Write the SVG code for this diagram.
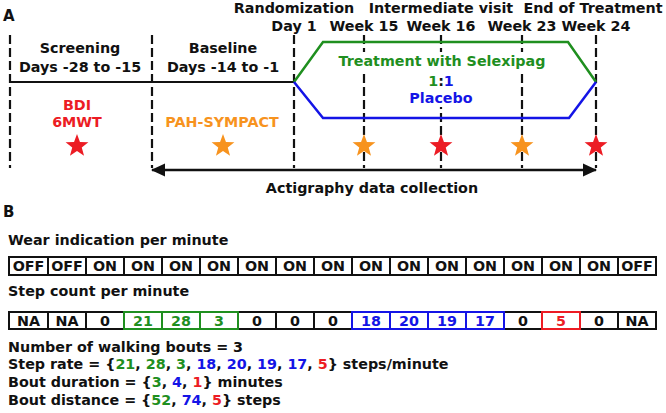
<svg xmlns="http://www.w3.org/2000/svg" width="666" height="413" viewBox="0 0 666 413">
<style>
text{font-family:"DejaVu Sans","Verdana",sans-serif;font-weight:bold;font-size:14.3px;fill:#111}
.c{text-anchor:middle}
.lbl{font-size:15px}
.dash{stroke:#111;stroke-width:2.2;stroke-dasharray:9,4;fill:none}
.cell{fill:#fff;stroke:#111;stroke-width:2}
.g{fill:#1f8f1f}.b{fill:#1414e6}.r{fill:#ec1c24}.o{fill:#f7931e}
.gs{fill:none;stroke:#1f8f1f;stroke-width:2}
.bs{fill:none;stroke:#1414e6;stroke-width:2}
.rs{fill:none;stroke:#ec1c24;stroke-width:2}
</style>
<defs>
<polygon id="star" points="0,-12 2.94,-4.05 11.41,-3.71 4.76,1.55 7.05,9.71 0,5 -7.05,9.71 -4.76,1.55 -11.41,-3.71 -2.94,-4.05"/>
<marker id="ah" markerUnits="userSpaceOnUse" markerWidth="14" markerHeight="14" refX="13" refY="6.5" orient="auto-start-reverse" viewBox="0 0 14 13">
<path d="M0,0 L14,6.5 L0,13 z" fill="#111"/>
</marker>
</defs>
<rect width="666" height="413" fill="#fff"/>

<g id="panelA-label"><text class="lbl" x="3" y="21">A</text></g>

<g id="connectors">
<line class="dash" x1="10" y1="35" x2="10" y2="168"/>
<line class="dash" x1="152" y1="35" x2="152" y2="168"/>
<line class="dash" x1="294" y1="35" x2="294" y2="168"/>
<line class="dash" x1="364" y1="35" x2="364" y2="168"/>
<line class="dash" x1="441" y1="35" x2="441" y2="168"/>
<line class="dash" x1="522" y1="35" x2="522" y2="168"/>
<line class="dash" x1="596" y1="35" x2="596" y2="168"/>
<line x1="10" y1="82" x2="294" y2="82" stroke="#111" stroke-width="2.2"/>
<path d="M294,82 L323,42 L568,42 L596,82" fill="none" stroke="#1f8f1f" stroke-width="2.5"/>
<path d="M294,82 L323,118 L569,118 L596,82" fill="none" stroke="#1414e6" stroke-width="2.5"/>
<line x1="152" y1="170" x2="596" y2="170" stroke="#111" stroke-width="2.5" marker-start="url(#ah)" marker-end="url(#ah)"/>
</g>

<g id="timepoints">
<text class="c" x="294" y="13">Randomization</text>
<text class="c" x="441" y="13">Intermediate visit</text>
<text class="c" x="593" y="13">End of Treatment</text>
<text class="c" x="294" y="31">Day 1</text>
<text class="c" x="364" y="31">Week 15</text>
<text class="c" x="441" y="31">Week 16</text>
<text class="c" x="522" y="31">Week 23</text>
<text class="c" x="596" y="31">Week 24</text>
</g>

<g id="screening">
<text class="c" x="80" y="53">Screening</text>
<text class="c" x="80" y="72">Days -28 to -15</text>
<text class="c r" x="77" y="110">BDI</text>
<text class="c r" x="77" y="127">6MWT</text>
<use href="#star" x="77" y="146" class="r"/>
</g>

<g id="baseline">
<text class="c" x="223" y="53">Baseline</text>
<text class="c" x="223" y="72">Days -14 to -1</text>
<text class="c o" x="222" y="127">PAH-SYMPACT</text>
<use href="#star" x="223" y="146" class="o"/>
</g>

<g id="treatment">
<rect x="338" y="52" width="208" height="18" fill="#fff"/>
<rect x="410" y="73" width="62" height="34" fill="#fff"/>
<text class="c g" x="442" y="66">Treatment with Selexipag</text>
<text class="c" x="441" y="86"><tspan class="g">1</tspan><tspan fill="#111">:</tspan><tspan class="b">1</tspan></text>
<text class="c b" x="441" y="103">Placebo</text>
</g>

<g id="visit-stars">
<use href="#star" x="364" y="146" class="o"/>
<use href="#star" x="441" y="146" class="r"/>
<use href="#star" x="522" y="146" class="o"/>
<use href="#star" x="596" y="146" class="r"/>
</g>

<g id="actigraphy"><text class="c" x="372" y="193">Actigraphy data collection</text></g>

<g id="panelB-label"><text class="lbl" x="3" y="217">B</text></g>

<g id="wear-row">
<text x="8" y="245">Wear indication per minute</text>
<rect class="cell" x="9" y="257" width="39" height="18"/>
<rect class="cell" x="48" y="257" width="38" height="18"/>
<rect class="cell" x="86" y="257" width="38" height="18"/>
<rect class="cell" x="124" y="257" width="38" height="18"/>
<rect class="cell" x="162" y="257" width="38" height="18"/>
<rect class="cell" x="200" y="257" width="38" height="18"/>
<rect class="cell" x="238" y="257" width="38" height="18"/>
<rect class="cell" x="276" y="257" width="38" height="18"/>
<rect class="cell" x="314" y="257" width="38" height="18"/>
<rect class="cell" x="352" y="257" width="38" height="18"/>
<rect class="cell" x="390" y="257" width="38" height="18"/>
<rect class="cell" x="428" y="257" width="38" height="18"/>
<rect class="cell" x="466" y="257" width="38" height="18"/>
<rect class="cell" x="504" y="257" width="38" height="18"/>
<rect class="cell" x="542" y="257" width="38" height="18"/>
<rect class="cell" x="580" y="257" width="38" height="18"/>
<rect class="cell" x="618" y="257" width="38" height="18"/>
<text class="c" x="28.5" y="271">OFF</text>
<text class="c" x="67" y="271">OFF</text>
<text class="c" x="105" y="271">ON</text>
<text class="c" x="143" y="271">ON</text>
<text class="c" x="181" y="271">ON</text>
<text class="c" x="219" y="271">ON</text>
<text class="c" x="257" y="271">ON</text>
<text class="c" x="295" y="271">ON</text>
<text class="c" x="333" y="271">ON</text>
<text class="c" x="371" y="271">ON</text>
<text class="c" x="409" y="271">ON</text>
<text class="c" x="447" y="271">ON</text>
<text class="c" x="485" y="271">ON</text>
<text class="c" x="523" y="271">ON</text>
<text class="c" x="561" y="271">ON</text>
<text class="c" x="599" y="271">ON</text>
<text class="c" x="637" y="271">OFF</text>
</g>

<g id="step-row">
<text x="8" y="296">Step count per minute</text>
<rect class="cell" x="9" y="312" width="39" height="17"/>
<rect class="cell" x="48" y="312" width="38" height="17"/>
<rect class="cell" x="86" y="312" width="38" height="17"/>
<rect class="cell" x="238" y="312" width="38" height="17"/>
<rect class="cell" x="276" y="312" width="38" height="17"/>
<rect class="cell" x="314" y="312" width="38" height="17"/>
<rect class="cell" x="504" y="312" width="38" height="17"/>
<rect class="cell" x="580" y="312" width="38" height="17"/>
<rect class="cell" x="618" y="312" width="38" height="17"/>
<rect class="gs" x="124" y="312" width="38" height="17"/>
<rect class="gs" x="162" y="312" width="38" height="17"/>
<rect class="gs" x="200" y="312" width="38" height="17"/>
<rect class="bs" x="352" y="312" width="38" height="17"/>
<rect class="bs" x="390" y="312" width="38" height="17"/>
<rect class="bs" x="428" y="312" width="38" height="17"/>
<rect class="bs" x="466" y="312" width="38" height="17"/>
<rect class="rs" x="542" y="312" width="38" height="17"/>
<text class="c" x="28.5" y="326">NA</text>
<text class="c" x="67" y="326">NA</text>
<text class="c" x="105" y="326">0</text>
<text class="c g" x="143" y="326">21</text>
<text class="c g" x="181" y="326">28</text>
<text class="c g" x="219" y="326">3</text>
<text class="c" x="257" y="326">0</text>
<text class="c" x="295" y="326">0</text>
<text class="c" x="333" y="326">0</text>
<text class="c b" x="371" y="326">18</text>
<text class="c b" x="409" y="326">20</text>
<text class="c b" x="447" y="326">19</text>
<text class="c b" x="485" y="326">17</text>
<text class="c" x="523" y="326">0</text>
<text class="c r" x="561" y="326">5</text>
<text class="c" x="599" y="326">0</text>
<text class="c" x="637" y="326">NA</text>
</g>

<g id="summary">
<text x="8" y="352">Number of walking bouts = 3</text>
<text x="8" y="369">Step rate = {<tspan class="g">21</tspan>, <tspan class="g">28</tspan>, <tspan class="g">3</tspan>, <tspan class="b">18</tspan>, <tspan class="b">20</tspan>, <tspan class="b">19</tspan>, <tspan class="b">17</tspan>, <tspan class="r">5</tspan>} steps/minute</text>
<text x="8" y="387">Bout duration = {<tspan class="g">3</tspan>, <tspan class="b">4</tspan>, <tspan class="r">1</tspan>} minutes</text>
<text x="8" y="405">Bout distance = {<tspan class="g">52</tspan>, <tspan class="b">74</tspan>, <tspan class="r">5</tspan>} steps</text>
</g>
</svg>
